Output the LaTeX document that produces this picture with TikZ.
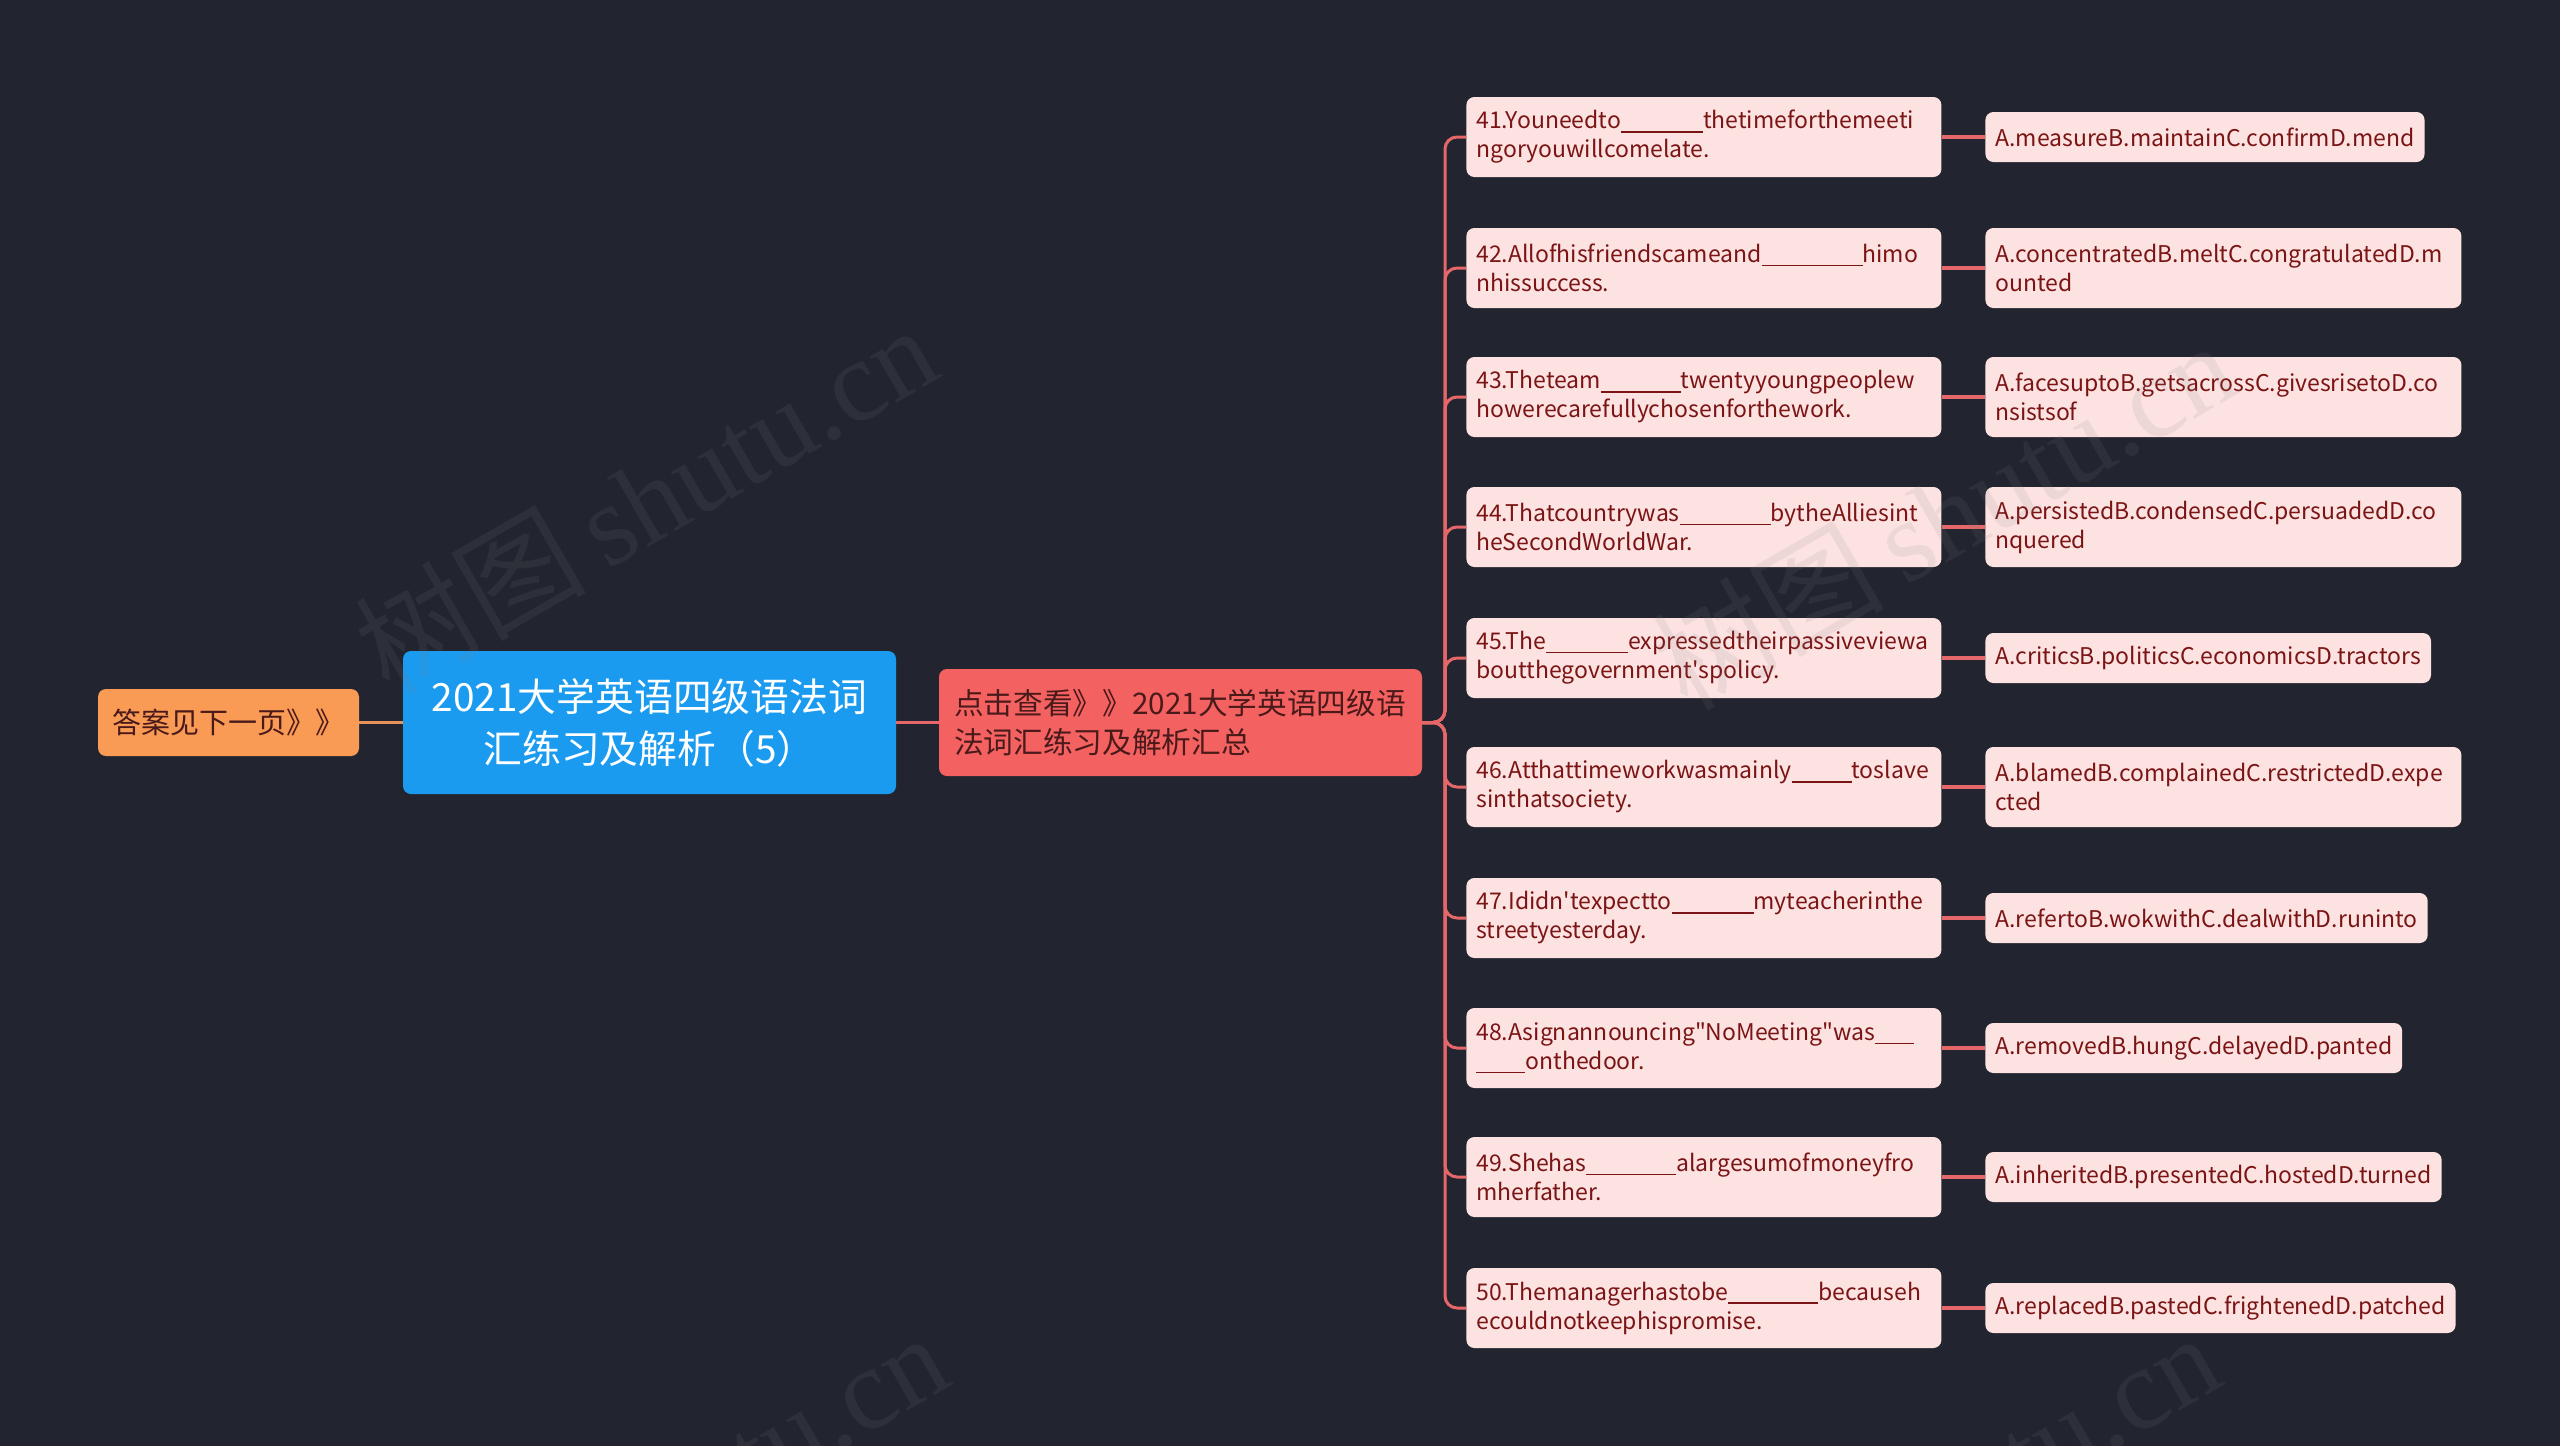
\documentclass[tikz,border=0pt]{standalone}
\usepackage{fontspec}
\setmainfont{Noto Sans CJK SC}[Ligatures=TeXOff]
\newfontfamily\wmserif{Liberation Serif}
\definecolor{bgc}{HTML}{22252F}
\definecolor{rootblue}{HTML}{1A9BF0}
\definecolor{nodered}{HTML}{F36161}
\definecolor{nodeorange}{HTML}{F99A55}
\definecolor{boxpink}{HTML}{FDE2E2}
\definecolor{txtred}{HTML}{7B1414}
\definecolor{txtdark}{HTML}{4A1A1A}
\definecolor{linered}{HTML}{E5676A}
\definecolor{lineorange}{HTML}{E8935A}
\newcommand\blk[1]{\rule[-1.8pt]{#1pt}{0.7pt}}
\newcommand\apos{\char`\'}
\newcommand\dq{\char`\"}
\begin{document}
\begin{tikzpicture}[x=0.5pt,y=-0.5pt,
  qbox/.style={fill=boxpink, rounded corners=4pt, text=txtred, font=\fontsize{11.5}{14.5}\selectfont,
    align=left, text width=227.5pt, inner xsep=5pt, inner ysep=0pt, minimum height=40pt, anchor=west},
  aboxone/.style={fill=boxpink, rounded corners=4pt, text=txtred, font=\fontsize{11.5}{14.5}\selectfont,
    align=left, inner xsep=5pt, inner ysep=0pt, minimum height=25pt, anchor=west},
  aboxtwo/.style={fill=boxpink, rounded corners=4pt, text=txtred, font=\fontsize{11.5}{14.5}\selectfont,
    align=left, text width=228pt, inner xsep=5pt, inner ysep=0pt, minimum height=40pt, anchor=west},
  trunk/.style={draw=linered, line width=1.5pt, rounded corners=6pt},
  qaline/.style={draw=linered, line width=2pt},
  wm/.style={text=gray, opacity=0.12, rotate=30, font=\fontsize{58}{58}\selectfont}
]
\useasboundingbox (0,0) rectangle (2560,1446);
\fill[bgc] (0,0) rectangle (2560,1446);
\clip (0,0) rectangle (2560,1446);

% main nodes
\node[fill=nodeorange, rounded corners=4pt, text=txtdark, font=\fontsize{14.5}{18}\selectfont,
  minimum width=130.5pt, minimum height=33.5pt, inner sep=0pt] (ans) at (228.5,722.5) {答案见下一页》》};
\node[fill=rootblue, rounded corners=4pt, text=white, font=\fontsize{19.4}{26}\selectfont, align=center,
  minimum width=246.5pt, minimum height=71.5pt, inner sep=0pt] (root) at (649.5,722.5) {2021大学英语四级语法词\\汇练习及解析（5）};
\node[fill=nodered, rounded corners=4pt, text=txtdark, font=\fontsize{14.85}{19.5}\selectfont, align=left,
  text width=226.5pt, inner xsep=7.5pt, minimum height=53.5pt, inner ysep=0pt] (sum) at (1180.5,722.5) {点击查看》》2021大学英语四级语\\法词汇练习及解析汇总};

\draw[draw=lineorange, line width=1.5pt] (ans.east) -- (root.west);
\draw[draw=linered, line width=1.5pt] (root.east) -- (sum.west);

% questions
\node[qbox] (q1) at (1466,137) {41.Youneedto\blk{41}thetimeforthemeeti\\ngoryouwillcomelate.};
\node[qbox] (q2) at (1466,268) {42.Allofhisfriendscameand\blk{50.5}himo\\nhissuccess.};
\node[qbox] (q3) at (1466,397) {43.Theteam\blk{40}twentyyoungpeoplew\\howerecarefullychosenforthework.};
\node[qbox] (q4) at (1466,527) {44.Thatcountrywas\blk{45.5}bytheAlliesint\\heSecondWorldWar.};
\node[qbox] (q5) at (1466,658) {45.The\blk{41}expressedtheirpassiveviewa\\boutthegovernment\apos spolicy.};
\node[qbox] (q6) at (1466,787) {46.Atthattimeworkwasmainly\blk{30}toslave\\sinthatsociety.};
\node[qbox] (q7) at (1466,918) {47.Ididn\apos texpectto\blk{41}myteacherinthe\\streetyesterday.};
\node[qbox] (q8) at (1466,1048) {48.Asignannouncing\dq NoMeeting\dq was\blk{19.5}\\\blk{24.5}onthedoor.};
\node[qbox] (q9) at (1466,1177) {49.Shehas\blk{45}alargesumofmoneyfro\\mherfather.};
\node[qbox] (q10) at (1466,1308) {50.Themanagerhastobe\blk{45}becauseh\\ecouldnotkeephispromise.};

% answers
\node[aboxone] (a1) at (1985,137) {A.measureB.maintainC.confirmD.mend};
\node[aboxtwo] (a2) at (1985,268) {A.concentratedB.meltC.congratulatedD.m\\ounted};
\node[aboxtwo] (a3) at (1985,397) {A.facesuptoB.getsacrossC.givesrisetoD.co\\nsistsof};
\node[aboxtwo] (a4) at (1985,527) {A.persistedB.condensedC.persuadedD.co\\nquered};
\node[aboxone] (a5) at (1985,658) {A.criticsB.politicsC.economicsD.tractors};
\node[aboxtwo] (a6) at (1985,787) {A.blamedB.complainedC.restrictedD.expe\\cted};
\node[aboxone] (a7) at (1985,918) {A.refertoB.wokwithC.dealwithD.runinto};
\node[aboxone] (a8) at (1985,1048) {A.removedB.hungC.delayedD.panted};
\node[aboxone] (a9) at (1985,1177) {A.inheritedB.presentedC.hostedD.turned};
\node[aboxone] (a10) at (1985,1308) {A.replacedB.pastedC.frightenedD.patched};

% connectors
\coordinate (trk) at (1445,722.5);
\foreach \i in {1,...,10}{
  \draw[trunk] (sum.east) -- (trk) |- (q\i.west);
  \draw[qaline] (q\i.east) -- (a\i.west);
}

% watermarks
\node[wm] (w1) at (645,498) {树图\,{\wmserif shutu.cn}};
\node[wm] (w2) at (1943,514) {树图\,{\wmserif shutu.cn}};
\node[wm] (w3) at (656,1506) {树图\,{\wmserif shutu.cn}};
\node[wm] (w4) at (1928,1506) {树图\,{\wmserif shutu.cn}};
\end{tikzpicture}
\end{document}
